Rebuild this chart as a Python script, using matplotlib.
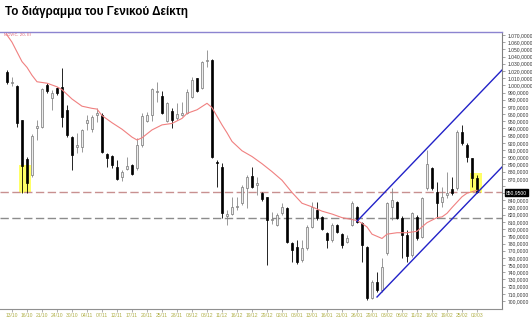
import matplotlib
matplotlib.use('Agg')
import matplotlib.pyplot as plt
from matplotlib.patches import Rectangle

# 日K线 (Γενικός Δείκτης, 10/10 - 02/03)
opens = [1018.5, 1003.0, 999.1, 951.8, 897.5, 875.3, 940.7, 942.1, 1000.5, 982.4,
         996.3, 997.7, 965.7, 928.1, 914.2, 914.2, 947.6, 939.3, 958.7, 958.7,
         904.5, 901.7, 886.4, 872.5, 883.6, 889.2, 885.0, 917.0, 950.4, 958.7,
         990.7, 985.2, 950.4, 964.3, 954.6, 958.7, 961.5, 983.8, 1010.2, 996.3,
         1033.8, 1035.2, 893.4, 886.4, 818.3, 821.0, 830.8, 836.3, 857.2, 873.9,
         861.4, 850.2, 844.7, 812.7, 805.8, 822.4, 829.4, 780.7, 775.2, 757.1,
         773.8, 803.0, 826.6, 816.9, 794.6, 784.9, 805.8, 793.2, 782.1, 805.8,
         830.8, 808.5, 775.2, 704.2, 726.5, 715.4, 766.8, 830.8, 837.7, 815.5,
         791.8, 764.0, 816.9, 789.1, 857.2, 885.0, 851.6, 837.7, 847.5, 855.8,
         857.2, 935.1, 917.0, 898.9, 871.1]
highs = [1021.3, 1011.6, 1000.5, 951.8, 900.3, 932.3, 951.8, 996.3, 1003.2, 993.5,
         997.7, 1024.1, 972.7, 929.5, 933.7, 939.3, 958.7, 958.7, 968.5, 961.5,
         905.9, 903.1, 896.2, 882.2, 900.3, 890.6, 926.7, 961.5, 962.9, 996.3,
         1004.6, 992.1, 976.8, 968.5, 975.4, 976.8, 994.9, 1011.6, 1010.2, 1033.8,
         1049.1, 1036.6, 896.2, 892.0, 826.6, 844.7, 844.7, 861.4, 875.3, 886.4,
         872.5, 851.6, 844.7, 823.8, 822.4, 836.3, 830.8, 782.1, 784.9, 784.9,
         805.8, 837.7, 837.7, 818.3, 796.0, 808.5, 807.1, 794.6, 791.8, 839.1,
         832.2, 809.9, 776.5, 729.3, 740.4, 759.9, 837.7, 857.2, 839.1, 818.3,
         798.8, 823.8, 819.7, 844.7, 910.1, 886.4, 865.6, 858.6, 879.5, 872.5,
         937.9, 944.8, 919.8, 898.9, 875.3]
lows = [1001.8, 999.1, 942.1, 850.2, 850.2, 872.5, 924.0, 940.7, 989.3, 965.7,
        986.5, 942.1, 928.1, 882.2, 905.9, 907.3, 937.9, 935.1, 949.0, 906.0,
        886.4, 885.0, 868.3, 866.9, 882.2, 875.3, 882.2, 914.2, 949.0, 950.4,
        976.8, 960.1, 949.0, 940.7, 951.8, 957.4, 960.1, 982.4, 990.7, 994.9,
        1025.5, 898.9, 858.6, 815.5, 805.8, 819.7, 826.6, 833.5, 829.4, 857.2,
        847.5, 839.1, 750.1, 807.1, 804.4, 819.7, 781.0, 754.3, 751.5, 754.3,
        771.0, 801.6, 812.7, 798.8, 773.8, 782.1, 794.6, 773.8, 780.7, 804.4,
        808.5, 754.3, 701.5, 702.8, 712.6, 712.6, 764.0, 812.7, 814.1, 759.9,
        754.3, 761.2, 784.9, 787.7, 854.4, 854.4, 815.5, 830.8, 843.3, 847.5,
        854.4, 917.0, 893.4, 858.6, 850.2]
closes = [1004.6, 1005.0, 947.6, 887.8, 864.2, 929.5, 943.4, 994.9, 992.1, 989.3,
          989.3, 956.0, 930.9, 903.1, 917.0, 937.9, 951.8, 956.0, 961.5, 907.3,
          898.9, 889.2, 869.7, 879.5, 887.8, 876.7, 917.0, 957.4, 958.7, 994.9,
          992.1, 961.5, 975.4, 951.8, 960.1, 961.5, 990.7, 1007.4, 992.1, 1032.4,
          1035.2, 900.3, 892.0, 822.4, 821.0, 830.8, 832.2, 858.6, 872.5, 858.6,
          864.2, 841.9, 812.7, 814.1, 819.7, 830.8, 782.1, 771.0, 754.3, 773.8,
          803.0, 830.8, 815.5, 800.2, 784.9, 805.8, 796.0, 777.9, 787.7, 836.3,
          809.9, 777.9, 704.2, 726.5, 715.4, 747.4, 836.3, 840.5, 815.5, 791.8,
          762.6, 822.4, 787.7, 843.3, 890.6, 857.2, 836.3, 844.7, 850.2, 850.2,
          935.1, 919.8, 900.3, 871.1, 850.95]

# 均线 (读图取点)
ma_idx = [0, 1, 3, 4, 5, 6, 8, 10, 11, 13, 15, 17, 18, 19, 21, 23, 25, 26, 27, 29,
          31, 33, 35, 36, 38, 40, 41, 43, 44, 45, 47, 49, 51, 53, 55, 57, 59, 61, 63,
          65, 67, 70, 71, 72, 73, 75, 76, 78, 80, 82, 83, 84, 86, 87, 88, 89, 91, 92, 94]
ma_val = [1070, 1060, 1033, 1025, 1014, 1005, 1003, 998, 994, 981, 971, 968, 967, 958,
          948, 939, 928, 924, 927, 938, 945, 947, 954, 961, 966, 975, 969, 945, 934,
          922, 909, 901, 891, 880, 868, 851, 836, 831, 825, 821, 816, 812, 808, 803,
          793, 787, 793, 795, 795, 797, 803, 809, 816, 817, 822, 830, 845, 850, 854]

# 上升通道
chan_low_x = [74, 99]
chan_low_y = [705.6, 886.4]
chan_up_x = [70, 99]
chan_up_y = [811.0, 1021.3]

last_close = 850.95
support = 815.5

# 黄色标记框 (x0, x1, y0, y1)
boxes = [(2.4, 4.8, 850.2, 889.2), (92.6, 95.0, 850.2, 878.1)]

date_labels = ['13/10', '16/10', '21/10', '24/10', '30/10', '04/11', '07/11', '12/11',
               '17/11', '20/11', '25/11', '28/11', '03/12', '08/12', '11/12', '16/12',
               '19/12', '29/12', '02/01', '08/01', '13/01', '16/01', '21/01', '26/01',
               '29/01', '03/02', '06/02', '11/02', '16/02', '19/02', '25/02', '02/03']
y_ticks = list(range(700, 1071, 10))


def gr_fmt(v):
    s = f"{v:,.4f}"
    return s.replace(',', 'X').replace('.', ',').replace('X', '.')


fig = plt.figure(figsize=(5.32, 3.20), dpi=100)
ax = fig.add_axes([0, 11 / 320, 502 / 532, 277 / 320])
ax.set_xlim(-1.4, 99)
ax.set_ylim(688.9, 1074.2)

for (x0, x1, y0, y1) in boxes:
    ax.add_patch(Rectangle((x0, y0), x1 - x0, y1 - y0, facecolor='#ffff66',
                           edgecolor='none', zorder=1))

ax.axhline(last_close, color='#c89090', lw=1.0, dashes=(6, 2.5), zorder=2)
ax.axhline(support, color='#8c8c8c', lw=1.0, dashes=(6, 2.5), zorder=2)

for i in range(len(opens)):
    o, h, l, c = opens[i], highs[i], lows[i], closes[i]
    up = c >= o
    wick_c = '#888888' if up else 'black'
    ax.vlines(i, l, h, color=wick_c, lw=0.6, zorder=3)
    face = '#ececec' if up else 'black'
    edge = '#777777' if up else 'black'
    ax.bar(i, max(abs(c - o), 0.6), bottom=min(o, c), width=0.58,
           facecolor=face, edgecolor=edge, lw=0.5, zorder=4)

ax.plot(ma_idx, ma_val, color='#f08080', lw=0.8, zorder=5)
ax.plot(chan_low_x, chan_low_y, color='#2222c8', lw=1.0, zorder=6)
ax.plot(chan_up_x, chan_up_y, color='#2222c8', lw=1.0, zorder=6)

# 坐标轴
ax.spines['left'].set_visible(False)
ax.spines['top'].set_color('#8c84d0')
ax.spines['top'].set_linewidth(1.0)
ax.spines['right'].set_color('#808080')
ax.spines['bottom'].set_color('#909090')
ax.spines['right'].set_linewidth(0.8)
ax.spines['bottom'].set_linewidth(0.8)

ax.yaxis.tick_right()
ax.set_yticks(y_ticks)
ax.set_yticklabels(['' if v in (850, 860) else gr_fmt(v) for v in y_ticks])
ax.tick_params(axis='y', length=2, width=0.5, color='#808080', pad=2,
               labelsize=3.6, labelcolor='#333333')
ax.set_xticks(range(1, 1 + 3 * len(date_labels), 3))
ax.set_xticklabels(date_labels)
ax.tick_params(axis='x', length=2, width=0.5, color='#909090', pad=1,
               labelsize=3.6, labelcolor='#b0b048')
for t in ax.get_xticklabels() + ax.get_yticklabels():
    t.set_family('Liberation Sans')

ax.text(1.008, last_close, gr_fmt(last_close), transform=ax.get_yaxis_transform(),
        fontsize=3.6, family='Liberation Sans', color='white', va='center', ha='left',
        bbox=dict(boxstyle='square,pad=0.25', facecolor='black', edgecolor='black'))

ax.text(0.008, 0.995, 'MOV(C, 20, E)', transform=ax.transAxes, fontsize=2.8,
        color='#e06070', va='top', ha='left')

fig.text(5 / 532, 1 - 12 / 320, 'Το διάγραμμα του Γενικού Δείκτη', fontsize=8.4,
         fontweight='bold', family='Liberation Sans', va='center', ha='left')

plt.savefig('out.png', dpi=100)
